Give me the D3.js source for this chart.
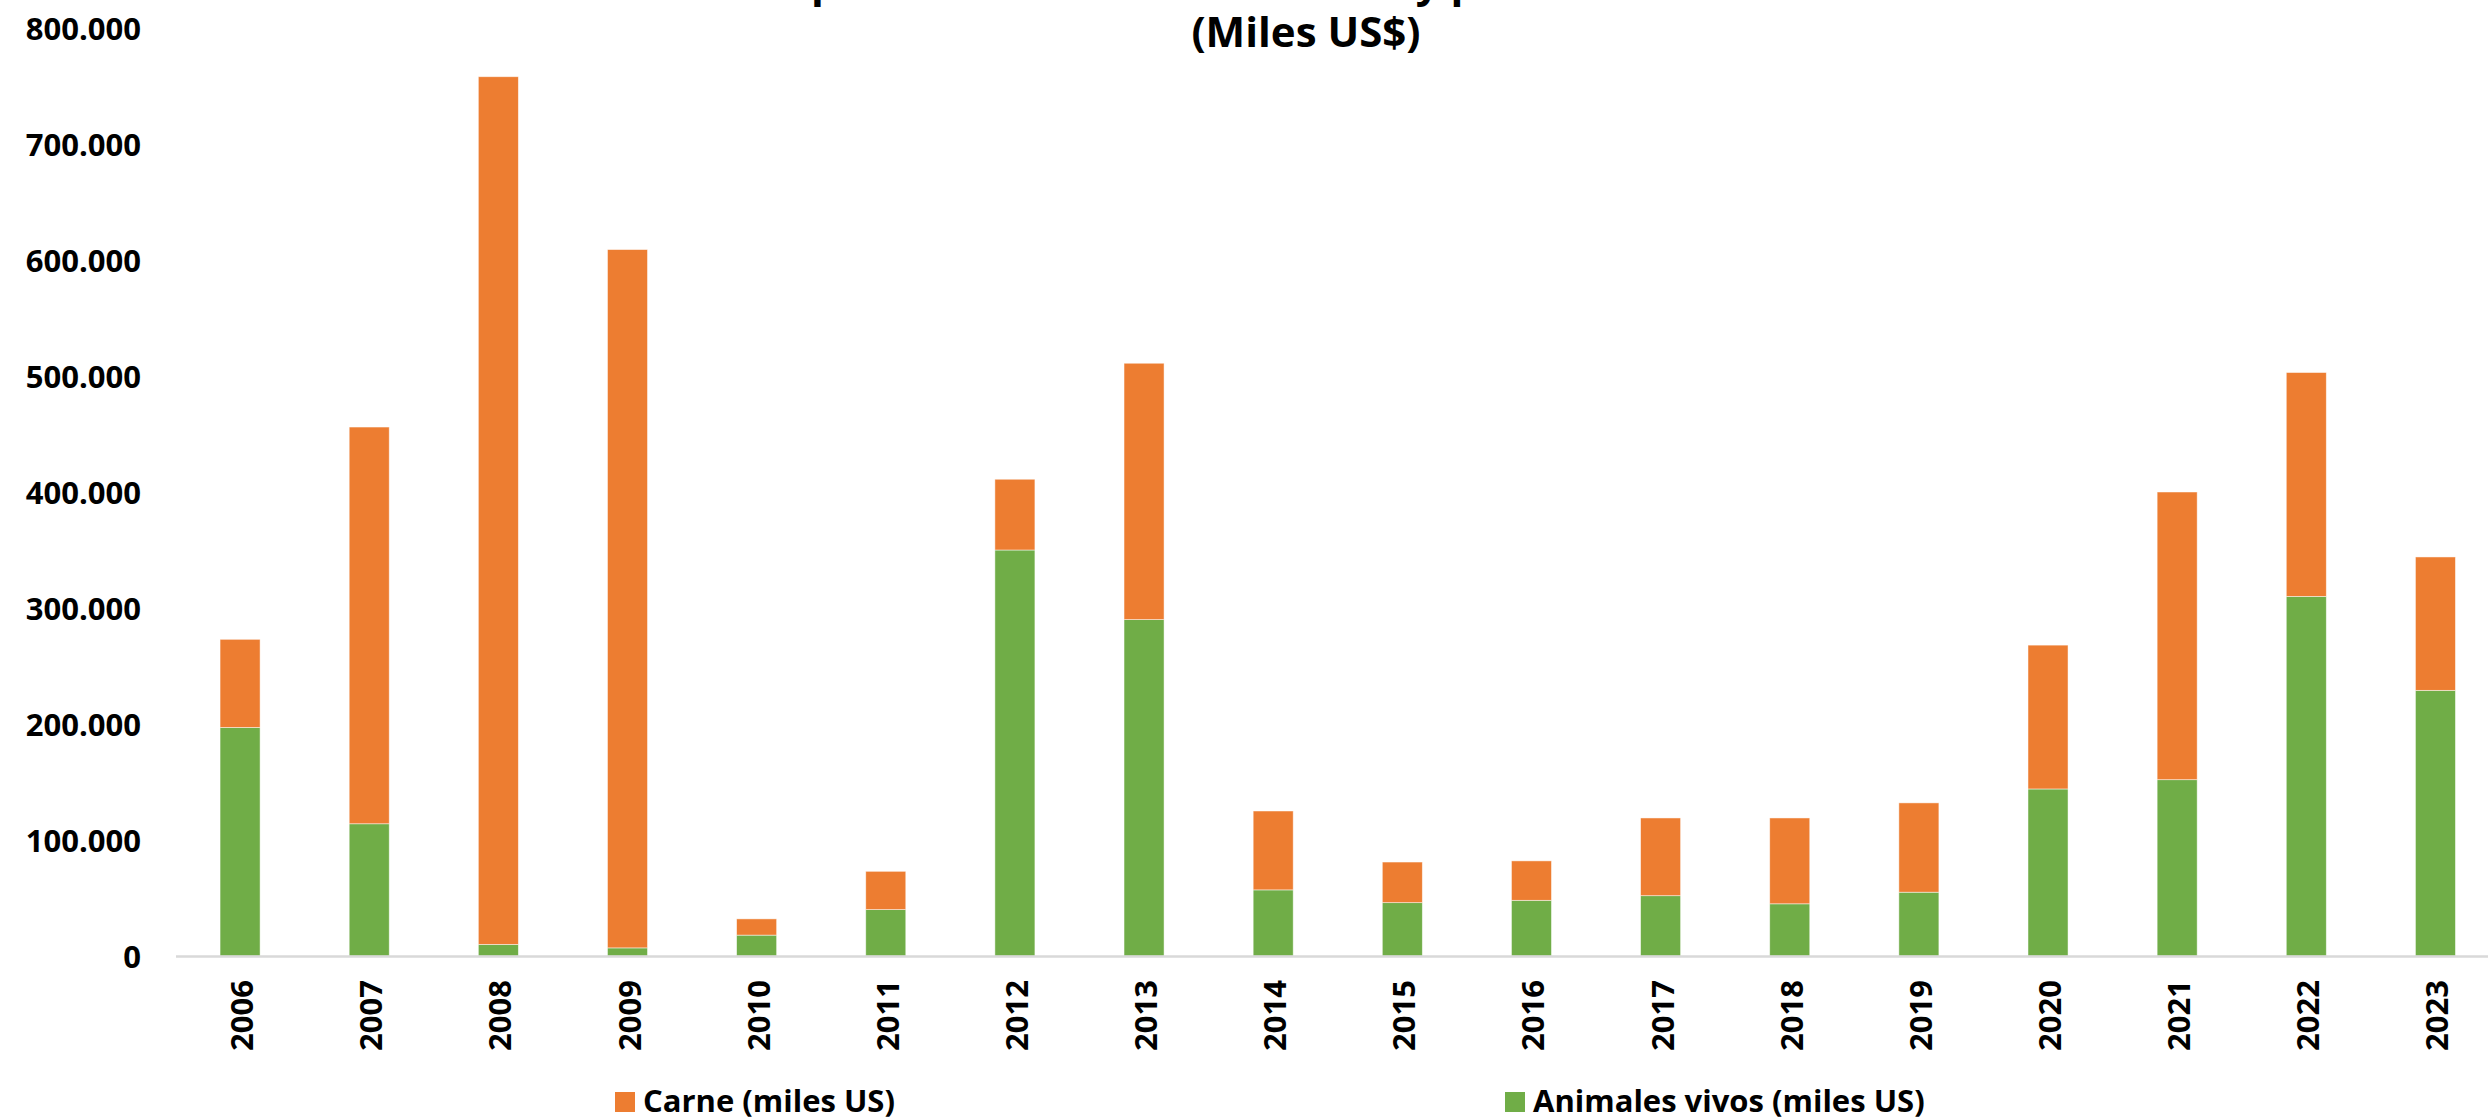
<!DOCTYPE html>
<html>
<head>
<meta charset="utf-8">
<script src="https://cdn.jsdelivr.net/npm/d3@7"></script>
<style>
  html, body { margin: 0; padding: 0; background: #fff; }
  svg { display: block; }
  text { font-family: "Open Sans", "Noto Sans", sans-serif; font-weight: 700; fill: #000; }
</style>
</head>
<body>
<svg id="chart" width="2488" height="1118"></svg>
<script>
// ---- data (miles US$) ----
const years = ["2006","2007","2008","2009","2010","2011","2012","2013","2014","2015","2016","2017","2018","2019","2020","2021","2022","2023"];
const animalesVivos = [197000, 114000, 10000, 7000, 18000, 40000, 350000, 290000, 57000, 46000, 48000, 52000, 45000, 55000, 144000, 152000, 310000, 229000];
const carne = [76000, 342000, 748000, 602000, 14000, 33000, 61000, 221000, 68000, 35000, 34000, 67000, 74000, 77000, 124000, 248000, 193000, 115000];
const seriesNames = ["Carne (miles US)", "Animales vivos (miles US)"];
const seriesColors = ["#ED7D31", "#70AD47"];
const yTicks = [0, 100000, 200000, 300000, 400000, 500000, 600000, 700000, 800000];
const titleLines = ["Exportaciones de carne bovina y productos cárnicos", "(Miles US$)"];

// ---- build ----
const svg = d3.select("#chart");
const W = 2488, H = 1118;
svg.append("rect").attr("width", W).attr("height", H).attr("fill", "#fff");

const rows = years.map((y, i) => ({ year: y, animales: animalesVivos[i], carne: carne[i] }));
const stack = d3.stack().keys(["animales", "carne"]);
const stacked = stack(rows);

const x = d3.scaleBand().domain(years).range([175.5, 2500]).paddingInner(0.69).paddingOuter(0.345);
const y = d3.scaleLinear().domain([0, 800000]).range([956, 28]);

const locale = d3.formatLocale({ decimal: ",", thousands: ".", grouping: [3], currency: ["$", ""] });
const fmt = locale.format(",.0f");

// y axis labels
const yAxis = d3.axisLeft(y).tickValues(yTicks).tickFormat(fmt).tickSize(0).tickPadding(0);
const gy = svg.append("g").attr("transform", "translate(141,0)").call(yAxis);
gy.select(".domain").remove();
gy.selectAll("text").attr("font-size", 31).attr("font-family", "'Open Sans', sans-serif")
  .attr("font-weight", 700).attr("fill", "#000").attr("dy", "0.36em");

// bars
const colorByKey = { carne: seriesColors[0], animales: seriesColors[1] };
svg.append("g").selectAll("g").data(stacked).join("g")
  .attr("fill", d => colorByKey[d.key])
  .selectAll("rect").data(d => d).join("rect")
  .attr("x", d => x(d.data.year))
  .attr("width", x.bandwidth())
  .attr("y", d => y(d[1]))
  .attr("height", d => y(d[0]) - y(d[1]))
  .attr("stroke", "#ffffff").attr("stroke-opacity", 0.6).attr("stroke-width", 0.8);

// baseline
svg.append("line").attr("x1", 176).attr("x2", W).attr("y1", y(0) + 0.5).attr("y2", y(0) + 0.5)
  .attr("stroke", "#d9d9d9").attr("stroke-width", 2.5);

// x axis labels
const xAxis = d3.axisBottom(x).tickSize(0).tickPadding(0);
const gx = svg.append("g").attr("transform", "translate(0,980)").call(xAxis);
gx.select(".domain").remove();
gx.selectAll("text")
  .attr("font-size", 31).attr("font-family", "'Open Sans', sans-serif").attr("font-weight", 700).attr("fill", "#000")
  .attr("text-anchor", "end").attr("transform", "rotate(-90)")
  .attr("x", 0).attr("y", 0).attr("dy", "0.42em");

// title
const title = svg.append("text").attr("text-anchor", "middle").attr("font-size", 42);
title.append("tspan").attr("x", 1306).attr("y", -3).text(titleLines[0]);
title.append("tspan").attr("x", 1306).attr("y", 47).text(titleLines[1]);

// legend
const legendPos = [{ sx: 615, tx: 643 }, { sx: 1505, tx: 1533 }];
const lg = svg.append("g").selectAll("g").data(seriesNames).join("g");
lg.append("rect").attr("x", (d, i) => legendPos[i].sx).attr("y", 1092).attr("width", 20).attr("height", 20)
  .attr("fill", (d, i) => seriesColors[i]);
lg.append("text").attr("x", (d, i) => legendPos[i].tx).attr("y", 1112).attr("font-size", 31).text(d => d);
</script>
</body>
</html>
